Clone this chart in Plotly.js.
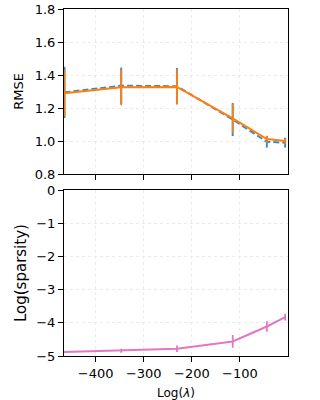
<!DOCTYPE html>
<html>
<head>
<meta charset="utf-8">
<script src="https://cdn.plot.ly/plotly-3.0.1.min.js"></script>
<style>
  html, body { margin: 0; padding: 0; background: #fff; }
  #plot { width: 320px; height: 400px; }
</style>
</head>
<body>
<div id="plot"></div>
<script>
// Log(lambda) values shared by both panels
const logLambda = [-465, -347, -231, -115, -44, -6];

// top panel: RMSE
const rmseA = [1.295, 1.335, 1.332, 1.13, 0.995, 0.99];
const rmseAErr = [0.155, 0.11, 0.11, 0.1, 0.035, 0.03];
const rmseB = [1.289, 1.325, 1.328, 1.137, 1.012, 1.0];
const rmseBErr = [0.14, 0.108, 0.105, 0.088, 0.02, 0.015];

// bottom panel: log sparsity
const sparsity = [-4.88, -4.84, -4.78, -4.56, -4.11, -3.83];
const sparsityErr = [0.03, 0.06, 0.1, 0.19, 0.16, 0.1];

const blue = "#1f77b4", orange = "#ff7f0e", pink = "#e377c2";

function errBar(arr, color, w) {
  return { type: "data", array: arr, visible: true, width: 0, thickness: w, color: color };
}

const traces = [
  {
    x: logLambda, y: rmseA, xaxis: "x2", yaxis: "y2",
    type: "scatter", mode: "lines",
    line: { color: blue, width: 2, dash: "6px,3px" },
    opacity: 0.85,
    error_y: errBar(rmseAErr, blue, 2),
  },
  {
    x: logLambda, y: rmseB, xaxis: "x2", yaxis: "y2",
    type: "scatter", mode: "lines",
    line: { color: orange, width: 2 },
    error_y: errBar(rmseBErr, orange, 1.8),
  },
  {
    x: logLambda, y: sparsity, xaxis: "x", yaxis: "y",
    type: "scatter", mode: "lines",
    line: { color: pink, width: 2 },
    error_y: errBar(sparsityErr, pink, 1.8),
  },
];

const font = { family: "DejaVu Sans", size: 13, color: "#000" };
const grid = { showgrid: true, gridcolor: "#ebebeb", griddash: "dot", gridwidth: 1 };
const frame = {
  showline: true, linecolor: "#000", linewidth: 1, mirror: true,
  ticks: "outside", ticklen: 5, tickwidth: 1, tickcolor: "#000",
  zeroline: false, tickfont: font,
};

const layout = {
  width: 320, height: 400,
  margin: { l: 64, r: 32, t: 9, b: 44 },
  paper_bgcolor: "#fff", plot_bgcolor: "#fff",
  showlegend: false,
  font: font,
  xaxis: Object.assign({}, frame, grid, {
    range: [-466, 0], tickvals: [-400, -300, -200, -100],
    anchor: "y",
    title: { text: "Log(<i>λ</i>)", font: { family: "DejaVu Sans", size: 12 }, standoff: 9 },
  }),
  yaxis: Object.assign({}, frame, grid, {
    domain: [0, 0.478], range: [-5, 0], dtick: 1,
    title: { text: "Log(sparsity)", font: { family: "DejaVu Sans", size: 15 }, standoff: 5 },
  }),
  xaxis2: Object.assign({}, frame, grid, {
    matches: "x", anchor: "y2", showticklabels: false,
    tickvals: [-400, -300, -200, -100],
  }),
  yaxis2: Object.assign({}, frame, grid, {
    domain: [0.5245, 1], range: [0.8, 1.8], dtick: 0.2, tickformat: ".1f",
    title: { text: "RMSE", font: { family: "DejaVu Sans", size: 13 }, standoff: 8 },
  }),
};

Plotly.newPlot("plot", traces, layout, { staticPlot: true, displayModeBar: false });
</script>
</body>
</html>
